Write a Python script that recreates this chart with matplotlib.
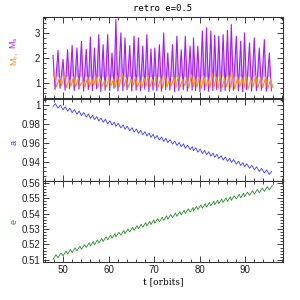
import matplotlib
matplotlib.use("Agg")
import matplotlib.pyplot as plt
from matplotlib.ticker import MultipleLocator, FuncFormatter
import numpy as np

plt.rcParams['font.family'] = ['Liberation Sans', 'DejaVu Sans']

# spike times (orbits) and M_s peaks / troughs
T = [47.8, 48.9, 50.0, 51.0, 52.0, 53.05, 54.05, 55.1, 56.0, 56.9,
     57.85, 58.8, 59.8, 60.75, 61.6, 62.7, 63.6, 64.65, 65.6, 66.55,
     67.5, 68.4, 69.3, 70.15, 71.15, 72.1, 73.0, 74.05, 75.0, 75.95,
     76.85, 77.9, 78.65, 79.6, 80.6, 81.5, 82.45, 83.3, 84.2, 85.15,
     86.1, 86.95, 88.05, 89.0, 89.85, 90.95, 92.0, 93.1, 94.2, 95.3]
ms_hi = [2.1, 2.3, 1.95, 2.33, 2.5, 2.4, 2.67, 2.35, 2.84, 2.4,
         2.93, 2.53, 2.93, 2.2, 3.53, 3.0, 2.8, 2.5, 2.87, 2.8,
         2.47, 2.93, 2.36, 2.4, 2.53, 3.0, 2.2, 2.53, 2.87, 2.33,
         2.87, 2.47, 2.8, 2.47, 3.07, 3.2, 3.07, 2.9, 2.87, 2.93,
         3.1, 3.33, 2.87, 2.67, 3.0, 2.6, 2.8, 2.4, 2.73, 2.2]
ms_lo = [0.75, 0.8, 0.72, 0.78, 0.7, 0.76, 0.68, 0.74, 0.7, 0.78,
         0.66, 0.72, 0.7, 0.8, 0.68, 0.7, 0.74, 0.68, 0.72, 0.7,
         0.76, 0.66, 0.72, 0.7, 0.68, 0.74, 0.72, 0.66, 0.7, 0.74,
         0.68, 0.72, 0.7, 0.66, 0.72, 0.68, 0.7, 0.74, 0.66, 0.7,
         0.68, 0.72, 0.7, 0.66, 0.74, 0.68, 0.7, 0.72, 0.68, 0.7]
mr_hi = [1.35, 1.2, 1.3, 1.15, 1.25, 1.2, 1.1, 1.25, 1.15, 1.3,
         1.2, 1.1, 1.25, 1.15, 1.3, 1.4, 1.2, 1.15, 1.25, 1.1,
         1.2, 1.3, 1.15, 1.25, 1.2, 1.35, 1.1, 1.25, 1.3, 1.15,
         1.2, 1.35, 1.2, 1.25, 1.3, 1.15, 1.4, 1.25, 1.35, 1.2,
         1.3, 1.4, 1.25, 1.2, 1.35, 1.15, 1.3, 1.2, 1.25, 1.15]
mr_lo = [0.85, 0.9, 0.82, 0.88, 0.85, 0.9, 0.84, 0.86, 0.9, 0.82,
         0.88, 0.85, 0.9, 0.83, 0.86, 0.88, 0.84, 0.9, 0.85, 0.82,
         0.88, 0.86, 0.9, 0.84, 0.8, 0.86, 0.88, 0.82, 0.85, 0.9,
         0.8, 0.86, 0.84, 0.78, 0.85, 0.8, 0.84, 0.78, 0.82, 0.86,
         0.8, 0.76, 0.84, 0.8, 0.78, 0.85, 0.8, 0.82, 0.78, 0.84]
a_lo = [0.9980, 0.9964, 0.9947, 0.9932, 0.9917, 0.9901, 0.9886, 0.9871, 0.9857, 0.9844,
        0.9829, 0.9815, 0.9800, 0.9786, 0.9773, 0.9757, 0.9743, 0.9727, 0.9713, 0.9699,
        0.9685, 0.9671, 0.9658, 0.9645, 0.9630, 0.9616, 0.9602, 0.9586, 0.9572, 0.9558,
        0.9544, 0.9529, 0.9517, 0.9503, 0.9488, 0.9475, 0.9460, 0.9448, 0.9434, 0.9420,
        0.9406, 0.9393, 0.9376, 0.9362, 0.9349, 0.9333, 0.9317, 0.9300, 0.9284, 0.9268]
a_hi = [1.0012, 0.9996, 0.9979, 0.9964, 0.9949, 0.9933, 0.9918, 0.9903, 0.9889, 0.9876,
        0.9861, 0.9847, 0.9832, 0.9818, 0.9805, 0.9789, 0.9775, 0.9759, 0.9745, 0.9731,
        0.9717, 0.9703, 0.9690, 0.9677, 0.9662, 0.9648, 0.9634, 0.9618, 0.9604, 0.9590,
        0.9576, 0.9561, 0.9549, 0.9535, 0.9520, 0.9507, 0.9492, 0.9480, 0.9466, 0.9452,
        0.9438, 0.9425, 0.9408, 0.9394, 0.9381, 0.9365, 0.9349, 0.9332, 0.9316, 0.9300]
e_lo = [0.5104, 0.5115, 0.5127, 0.5138, 0.5148, 0.5159, 0.5169, 0.5181, 0.5190, 0.5199,
        0.5209, 0.5219, 0.5230, 0.5240, 0.5249, 0.5260, 0.5270, 0.5281, 0.5291, 0.5301,
        0.5311, 0.5320, 0.5329, 0.5337, 0.5346, 0.5355, 0.5363, 0.5373, 0.5382, 0.5391,
        0.5400, 0.5409, 0.5416, 0.5425, 0.5434, 0.5441, 0.5449, 0.5456, 0.5463, 0.5471,
        0.5478, 0.5485, 0.5494, 0.5501, 0.5508, 0.5517, 0.5525, 0.5534, 0.5543, 0.5552]
e_hi = [0.5134, 0.5145, 0.5157, 0.5168, 0.5178, 0.5189, 0.5199, 0.5211, 0.5220, 0.5229,
        0.5239, 0.5249, 0.5260, 0.5270, 0.5279, 0.5290, 0.5300, 0.5311, 0.5321, 0.5331,
        0.5341, 0.5350, 0.5359, 0.5367, 0.5376, 0.5385, 0.5393, 0.5403, 0.5412, 0.5421,
        0.5430, 0.5439, 0.5446, 0.5455, 0.5464, 0.5471, 0.5479, 0.5486, 0.5493, 0.5501,
        0.5508, 0.5515, 0.5524, 0.5531, 0.5538, 0.5547, 0.5555, 0.5564, 0.5573, 0.5582]

T = np.array(T)

def zig(t1, v1, t2, v2):
    t = np.column_stack([t1, t2]).ravel()
    v = np.column_stack([v1, v2]).ravel()
    return t, v

ms_t, ms_v = zig(T, ms_hi, T + 0.45, ms_lo)
mr_t, mr_v = zig(T + 0.3, mr_hi, T + 0.75, mr_lo)
a_t, a_v = zig(T, a_lo, T + 0.5, a_hi)
e_t, e_v = zig(T, e_lo, T + 0.65, e_hi)

PURPLE = '#a020f0'
LAV = '#dba8f7'
ORANGE = '#ff8c1a'
BLUE = '#3a3aff'
GREEN = '#2a8a2a'

fig = plt.figure(figsize=(3, 3), dpi=100)
L, W = 43/300, 240/300
bottoms = [1-98/300, 1-180.5/300, 1-262/300]
H = 81.5/300
axs = [fig.add_axes([L, b, W, H]) for b in bottoms]

fmt = FuncFormatter(lambda v, p: '%g' % round(v, 4))
for ax in axs:
    ax.set_xlim(45.6, 98.3)
    ax.xaxis.set_major_locator(MultipleLocator(10))
    ax.xaxis.set_minor_locator(MultipleLocator(2))
    ax.tick_params(which='both', direction='in', top=True, right=True,
                   labelsize=7, colors='#222222', width=0.6, pad=2)
    ax.tick_params(which='major', length=4)
    ax.tick_params(which='minor', length=2)
    for s in ax.spines.values():
        s.set_linewidth(0.8)
        s.set_color('#333333')
    ax.yaxis.set_major_formatter(fmt)

ax = axs[0]
ax.fill_between(ms_t, ms_v, 1.25, where=np.array(ms_v) > 1.25, color=LAV, lw=0, interpolate=True)
ax.plot(ms_t, ms_v, color=PURPLE, lw=0.8)
ax.plot(mr_t, mr_v, color=ORANGE, lw=0.8)
ax.set_ylim(0.41, 3.65)
ax.yaxis.set_major_locator(MultipleLocator(1))
ax.yaxis.set_minor_locator(MultipleLocator(0.2))
ax.tick_params(labelbottom=False)
ax.set_title('retro e=0.5', fontsize=6.5, family='DejaVu Sans Mono', pad=4)

ax = axs[1]
ax.plot(a_t, a_v, color=BLUE, lw=0.6)
ax.set_ylim(0.9205, 1.006)
ax.yaxis.set_major_locator(MultipleLocator(0.02))
ax.yaxis.set_minor_locator(MultipleLocator(0.005))
ax.tick_params(labelbottom=False)

ax = axs[2]
ax.plot(e_t, e_v, color=GREEN, lw=0.6)
ax.set_ylim(0.5087, 0.5613)
ax.yaxis.set_major_locator(MultipleLocator(0.01))
ax.yaxis.set_minor_locator(MultipleLocator(0.002))
ax.set_xlabel('t [orbits]', fontsize=6.5, family='DejaVu Serif', labelpad=2)

fig.text(14/300, 1-43/300, r'M$_\mathrm{s}$', color=PURPLE, rotation=90,
         fontsize=6.5, ha='center', va='center')
fig.text(14/300, 1-59/300, r'M$_\mathrm{r}$,', color=ORANGE, rotation=90,
         fontsize=6.5, ha='center', va='center')
fig.text(14/300, 1-142/300, 'a', color=BLUE, rotation=90,
         fontsize=6.5, ha='center', va='center')
fig.text(14/300, 1-222/300, 'e', color=GREEN, rotation=90,
         fontsize=6.5, ha='center', va='center')

fig.savefig('out.png', dpi=100)
